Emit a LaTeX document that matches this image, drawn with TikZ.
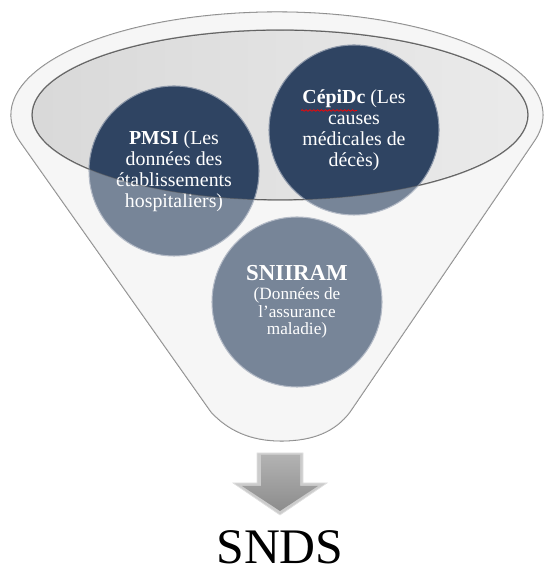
\documentclass[tikz,border=0pt]{standalone}
\usepackage{fontspec}
\setmainfont{Liberation Serif}
\usepackage{tikz}
\usetikzlibrary{shapes.geometric, decorations.pathmorphing, positioning}
\definecolor{navy}{HTML}{2F4462}
\definecolor{bodygray}{HTML}{F2F2F2}
\definecolor{edgegray}{HTML}{808080}
\tikzstyle{source} = [circle, minimum size=3.4cm, inner sep=0pt, align=center, text=white, fill=navy, draw=navy!55!white, line width=0.6pt, font=\fontsize{11.3}{12}\selectfont]
\tikzstyle{funnel} = [fill=bodygray, draw=edgegray, line width=0.6pt]
\tikzstyle{rim} = [left color=black!15, right color=black!8, draw=black!65, line width=0.7pt]
\tikzstyle{glass} = [fill=white, fill opacity=0.35, even odd rule]
\tikzstyle{blockarrow} = [fill=black!20, draw=black!12, line width=0.4pt]
\tikzstyle{spellerr} = [red, line width=0.4pt, decorate, decoration={snake, amplitude=0.45pt, segment length=2.2pt}]
\newcommand{\funnelbody}{(0.401,8.667) arc[start angle=195, end angle=-15, x radius=5.32, y radius=2.06]
  -- (7.00,3.26) .. controls (6.70,2.86) and (6.25,2.68) .. (5.62,2.68)
  .. controls (5.00,2.68) and (4.55,2.90) .. (4.22,3.26) -- cycle}

\begin{document}
\begin{tikzpicture}
\useasboundingbox (0,0) rectangle (10.88,11.5);
% funnel and its rim
\path[funnel] \funnelbody;
\path[rim] (5.60,9.20) ellipse [x radius=4.96, y radius=1.70];
% data sources
\node (pmsi) [source] at (3.48,8.08) {\textbf{PMSI} (Les\\données des\\établissements\\hospitaliers)};
\node (cepidc) [source] at (7.08,8.90) {\textbf{CépiDc} (Les\\causes\\médicales de\\décès)};
\node (sniiram) [source, font=\fontsize{9.8}{10}\selectfont] at (5.94,5.46) {{\fontsize{13}{13}\selectfont\textbf{SNIIRAM}}\\[1pt](Données de\\l’assurance\\maladie)};
\draw[spellerr] (6.02,9.29) -- (7.14,9.29);
% body of the funnel in front of the sources
\path[glass] \funnelbody (5.60,9.20) ellipse [x radius=4.96, y radius=1.70];
\draw[black!65, line width=0.5pt, opacity=0.5] (5.60,9.20) ellipse [x radius=4.96, y radius=1.70];
% output arrow
\path[blockarrow] (5.14,2.44) -- (6.06,2.44) -- (6.06,1.84) -- (6.54,1.84) -- (5.60,1.20) -- (4.66,1.84) -- (5.14,1.84) -- cycle;
\path[top color=black!30, bottom color=black!45] (5.22,2.40) -- (6.00,2.40) -- (6.00,1.78) -- (6.36,1.78) -- (5.60,1.28) -- (4.84,1.78) -- (5.22,1.78) -- cycle;
\coordinate (tip) at (5.60,1.20);
\node (snds) [below=0.3cm of tip, inner sep=0pt, font=\fontsize{28.3}{30}\selectfont] {SNDS};
\end{tikzpicture}
\end{document}
